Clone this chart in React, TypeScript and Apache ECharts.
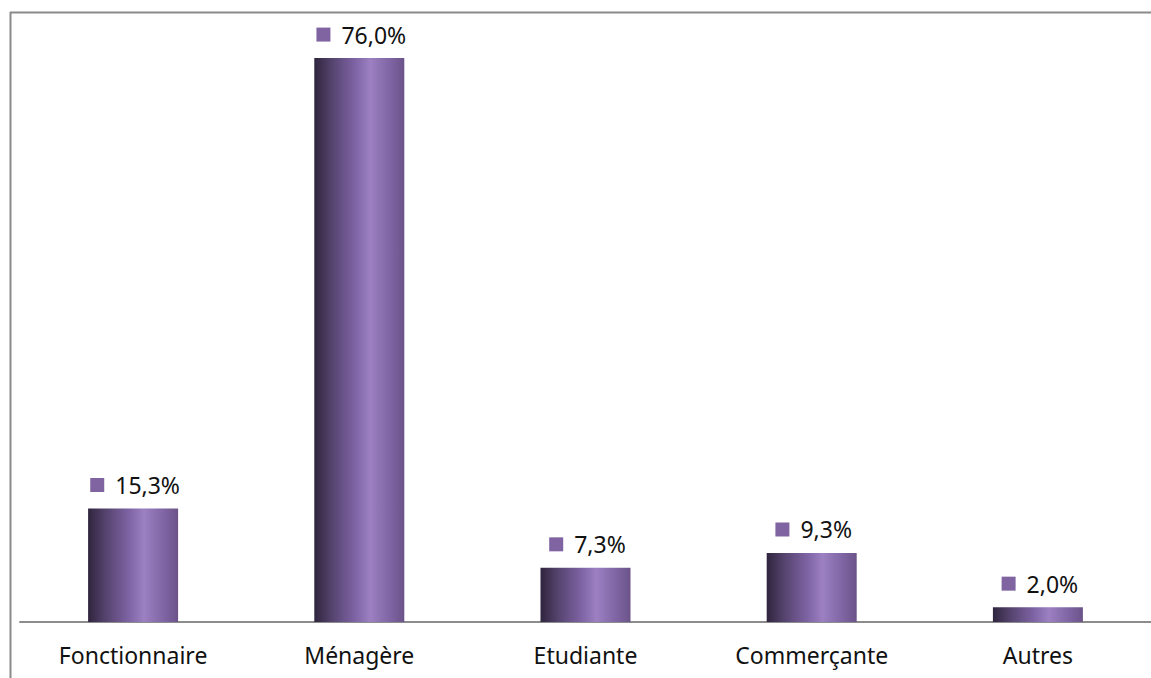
import React, { useEffect, useRef } from "react";
import * as echarts from "echarts";

const categories = ["Fonctionnaire", "Ménagère", "Etudiante", "Commerçante", "Autres"];
const values = [15.3, 76.0, 7.3, 9.3, 2.0];
const valueLabels = ["15,3%", "76,0%", "7,3%", "9,3%", "2,0%"];

export default function App() {
  const ref = useRef<HTMLDivElement>(null);
  useEffect(() => {
    if (!ref.current) return;
    const chart = echarts.init(ref.current, undefined, { renderer: "svg" });
    const barColor = new echarts.graphic.LinearGradient(0, 0, 1, 0, [
      { offset: 0, color: "#2f253d" },
      { offset: 0.2, color: "#56446f" },
      { offset: 0.45, color: "#7d63a3" },
      { offset: 0.62, color: "#9c80c2" },
      { offset: 0.85, color: "#7e64a2" },
      { offset: 1, color: "#6b5389" },
    ]);
    chart.setOption({
      animation: false,
      backgroundColor: "#ffffff",
      grid: { left: 20, width: 1134, top: 28.4, bottom: 56, containLabel: false },
      graphic: [
        { type: "line", shape: { x1: 10, y1: 12.5, x2: 1151, y2: 12.5 }, style: { stroke: "#8a8a8a", lineWidth: 2 } },
        { type: "line", shape: { x1: 10.5, y1: 12, x2: 10.5, y2: 678 }, style: { stroke: "#8a8a8a", lineWidth: 2 } },
      ],
      xAxis: {
        type: "category",
        data: categories,
        axisLine: { lineStyle: { color: "#8c8c8c", width: 2 } },
        axisTick: { show: false },
        axisLabel: { fontFamily: "Noto Sans", fontSize: 23, color: "#111", margin: 21 },
      },
      yAxis: {
        type: "value",
        min: 0,
        max: 80,
        show: false,
        splitLine: { show: false },
      },
      series: [
        {
          type: "bar",
          data: values.map((v, i) => ({ value: v, label: { formatter: "{sq|}{g|}{v|" + valueLabels[i] + "}" } })),
          barWidth: 90,
          itemStyle: { color: barColor },
          label: {
            show: true,
            position: "top",
            distance: 12,
            offset: [2, 0],
            rich: {
              sq: { width: 14, height: 14, backgroundColor: "#8064a2" },
              g: { width: 11 },
              v: { fontFamily: "Noto Sans", fontSize: 23, color: "#111" },
            },
          },
        },
      ],
    });
    return () => chart.dispose();
  }, []);
  return (
    <div
      ref={ref}
      style={{ position: "absolute", left: 0, top: 0, width: 1151, height: 678, background: "#fff" }}
    />
  );
}
